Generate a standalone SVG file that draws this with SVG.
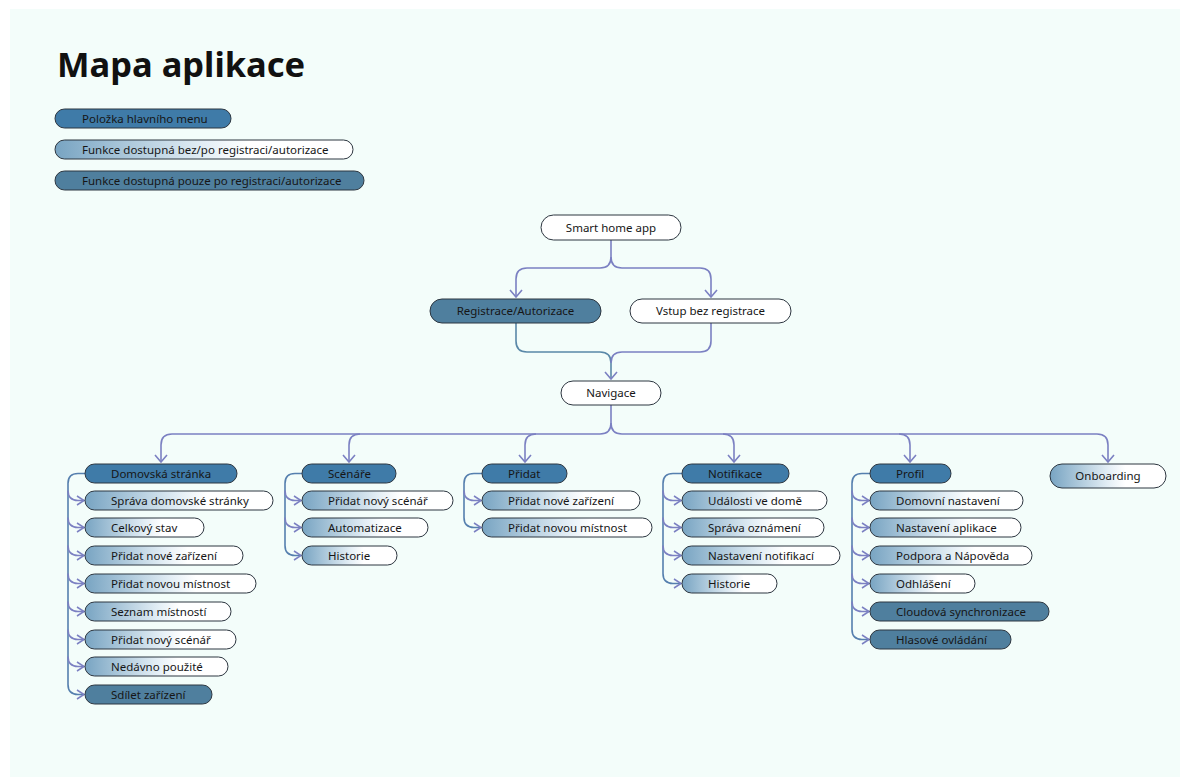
<svg xmlns="http://www.w3.org/2000/svg" width="1180" height="778" viewBox="0 0 1180 778">
<defs>
<linearGradient id="lg" x1="0" y1="0" x2="1" y2="0">
<stop offset="0" stop-color="#78a4c2"/>
<stop offset="0.5" stop-color="#e3eef5"/>
<stop offset="0.65" stop-color="#ffffff"/>
</linearGradient>
<marker id="ad" markerUnits="userSpaceOnUse" markerWidth="14" markerHeight="14" viewBox="0 0 14 14" refX="12" refY="7" orient="auto">
<path d="M5,1 L12,7 L5,13" fill="none" stroke="#7b80c2" stroke-width="1.6"/>
</marker>
<marker id="ac" markerUnits="userSpaceOnUse" markerWidth="12" markerHeight="12" viewBox="0 0 12 12" refX="10" refY="6" orient="auto">
<path d="M3,1.5 L10,6 L3,10.5" fill="none" stroke="#7b80c2" stroke-width="1.5"/>
</marker>
</defs>
<style>
.n rect{stroke:#2d3640;stroke-width:1}
.main{fill:#3f7ba8}
.reg{fill:#4f7f9e}
.lt{fill:url(#lg)}
.wh{fill:#ffffff}
text{font-family:"Noto Sans","DejaVu Sans",sans-serif;font-size:11.5px;fill:#161616}
.c{text-anchor:middle}
.cn path{fill:none;stroke:#7b80c2;stroke-width:1.6}
.cn path.tr{stroke:#557fae}
</style>
<rect x="10" y="9" width="1170" height="768" fill="#f3fdfa"/>
<text x="57" y="77" style="font-size:34.5px;font-weight:bold;fill:#111">Mapa aplikace</text>

<g id="legend" class="n">
<rect class="main" x="55" y="109" width="176" height="19" rx="9.5"/>
<text x="82" y="122.5">Položka hlavního menu</text>
<rect class="lt" x="55" y="140" width="298" height="19" rx="9.5"/>
<text x="82" y="153.5">Funkce dostupná bez/po registraci/autorizace</text>
<rect class="reg" x="55" y="171" width="309" height="19" rx="9.5"/>
<text x="82" y="184.5">Funkce dostupná pouze po registraci/autorizace</text>
</g>

<g id="connectors" class="cn">
<path d="M611,240 V257 Q611,268 600,268 H527 Q516,268 516,279 V297" marker-end="url(#ad)"/>
<path d="M611,257 Q611,268 622,268 H700 Q711,268 711,279 V297" marker-end="url(#ad)"/>
<path d="M516,323 V341 Q516,352 527,352 H600 Q611,352 611,363 V379" style="stroke:#5a88a8" marker-end="url(#ad)"/>
<path d="M711,323 V341 Q711,352 700,352 H622 Q611,352 611,363"/>
<path d="M611,405 V423 Q611,434 600,434 H172 Q161,434 161,445 V462" marker-end="url(#ad)"/>
<path d="M611,423 Q611,434 622,434 H1097 Q1108,434 1108,445 V462" marker-end="url(#ad)"/>
<path d="M360,434 Q349,434 349,445 V462" marker-end="url(#ad)"/>
<path d="M536,434 Q525,434 525,445 V462" marker-end="url(#ad)"/>
<path d="M723,434 Q734,434 734,445 V462" marker-end="url(#ad)"/>
<path d="M899,434 Q910,434 910,445 V462" marker-end="url(#ad)"/>

<!-- Domovská -->
<path class="tr" d="M85,473.5 H78 Q68,473.5 68,483.5 V684.5 Q68,694.5 78,694.5 H84" marker-end="url(#ac)"/>
<path d="M68,490.5 Q68,500.5 78,500.5 H84" marker-end="url(#ac)"/>
<path d="M68,517.5 Q68,527.5 78,527.5 H84" marker-end="url(#ac)"/>
<path d="M68,545.5 Q68,555.5 78,555.5 H84" marker-end="url(#ac)"/>
<path d="M68,573.5 Q68,583.5 78,583.5 H84" marker-end="url(#ac)"/>
<path d="M68,601.5 Q68,611.5 78,611.5 H84" marker-end="url(#ac)"/>
<path d="M68,629.5 Q68,639.5 78,639.5 H84" marker-end="url(#ac)"/>
<path d="M68,656.5 Q68,666.5 78,666.5 H84" marker-end="url(#ac)"/>
<!-- Scénáře -->
<path class="tr" d="M302,473.5 H295 Q285,473.5 285,483.5 V545.5 Q285,555.5 295,555.5 H301" marker-end="url(#ac)"/>
<path d="M285,490.5 Q285,500.5 295,500.5 H301" marker-end="url(#ac)"/>
<path d="M285,517.5 Q285,527.5 295,527.5 H301" marker-end="url(#ac)"/>
<!-- Přidat -->
<path class="tr" d="M482,473.5 H474 Q464,473.5 464,483.5 V517.5 Q464,527.5 474,527.5 H481" marker-end="url(#ac)"/>
<path d="M464,490.5 Q464,500.5 474,500.5 H481" marker-end="url(#ac)"/>
<!-- Notifikace -->
<path class="tr" d="M682,473.5 H673 Q663,473.5 663,483.5 V573.5 Q663,583.5 673,583.5 H681" marker-end="url(#ac)"/>
<path d="M663,490.5 Q663,500.5 673,500.5 H681" marker-end="url(#ac)"/>
<path d="M663,517.5 Q663,527.5 673,527.5 H681" marker-end="url(#ac)"/>
<path d="M663,545.5 Q663,555.5 673,555.5 H681" marker-end="url(#ac)"/>
<!-- Profil -->
<path class="tr" d="M870,473.5 H862 Q852,473.5 852,483.5 V629.5 Q852,639.5 862,639.5 H869" marker-end="url(#ac)"/>
<path d="M852,490.5 Q852,500.5 862,500.5 H869" marker-end="url(#ac)"/>
<path d="M852,517.5 Q852,527.5 862,527.5 H869" marker-end="url(#ac)"/>
<path d="M852,545.5 Q852,555.5 862,555.5 H869" marker-end="url(#ac)"/>
<path d="M852,573.5 Q852,583.5 862,583.5 H869" marker-end="url(#ac)"/>
<path d="M852,601.5 Q852,611.5 862,611.5 H869" marker-end="url(#ac)"/>
</g>

<g id="n-smart" class="n"><rect class="wh" x="541" y="215" width="140" height="25" rx="12.5"/><text class="c" x="611" y="231.5">Smart home app</text></g>
<g id="n-registrace" class="n"><rect class="reg" x="430" y="299" width="171" height="24" rx="12"/><text class="c" x="515.5" y="315">Registrace/Autorizace</text></g>
<g id="n-vstup" class="n"><rect class="wh" x="630" y="299" width="161" height="24" rx="12"/><text class="c" x="710.5" y="315">Vstup bez registrace</text></g>
<g id="n-navigace" class="n"><rect class="wh" x="561" y="381" width="100" height="24" rx="12"/><text class="c" x="611" y="397">Navigace</text></g>

<g id="n-domovska" class="n"><rect class="main" x="85" y="464" width="152" height="19" rx="9.5"/><text x="111" y="477.5">Domovská stránka</text></g>
<g id="n-d1" class="n"><rect class="lt" x="85" y="491" width="188" height="19" rx="9.5"/><text x="111" y="504.5">Správa domovské stránky</text></g>
<g id="n-d2" class="n"><rect class="lt" x="85" y="518" width="119" height="19" rx="9.5"/><text x="111" y="531.5">Celkový stav</text></g>
<g id="n-d3" class="n"><rect class="lt" x="85" y="546" width="158" height="19" rx="9.5"/><text x="111" y="559.5">Přidat nové zařízení</text></g>
<g id="n-d4" class="n"><rect class="lt" x="85" y="574" width="171" height="19" rx="9.5"/><text x="111" y="587.5">Přidat novou místnost</text></g>
<g id="n-d5" class="n"><rect class="lt" x="85" y="602" width="146" height="19" rx="9.5"/><text x="111" y="615.5">Seznam místností</text></g>
<g id="n-d6" class="n"><rect class="lt" x="85" y="630" width="151" height="19" rx="9.5"/><text x="111" y="643.5">Přidat nový scénář</text></g>
<g id="n-d7" class="n"><rect class="lt" x="85" y="657" width="143" height="19" rx="9.5"/><text x="111" y="670.5">Nedávno použité</text></g>
<g id="n-d8" class="n"><rect class="reg" x="85" y="685" width="127" height="19" rx="9.5"/><text x="111" y="698.5">Sdílet zařízení</text></g>

<g id="n-scenare" class="n"><rect class="main" x="302" y="464" width="94" height="19" rx="9.5"/><text x="328" y="477.5">Scénáře</text></g>
<g id="n-s1" class="n"><rect class="lt" x="302" y="491" width="151" height="19" rx="9.5"/><text x="328" y="504.5">Přidat nový scénář</text></g>
<g id="n-s2" class="n"><rect class="lt" x="302" y="518" width="126" height="19" rx="9.5"/><text x="328" y="531.5">Automatizace</text></g>
<g id="n-s3" class="n"><rect class="lt" x="302" y="546" width="95" height="19" rx="9.5"/><text x="328" y="559.5">Historie</text></g>

<g id="n-pridat" class="n"><rect class="main" x="482" y="464" width="85" height="19" rx="9.5"/><text x="508" y="477.5">Přidat</text></g>
<g id="n-p1" class="n"><rect class="lt" x="482" y="491" width="158" height="19" rx="9.5"/><text x="508" y="504.5">Přidat nové zařízení</text></g>
<g id="n-p2" class="n"><rect class="lt" x="482" y="518" width="170" height="19" rx="9.5"/><text x="508" y="531.5">Přidat novou místnost</text></g>

<g id="n-notifikace" class="n"><rect class="main" x="682" y="464" width="107" height="19" rx="9.5"/><text x="708" y="477.5">Notifikace</text></g>
<g id="n-n1" class="n"><rect class="lt" x="682" y="491" width="145" height="19" rx="9.5"/><text x="708" y="504.5">Události ve domě</text></g>
<g id="n-n2" class="n"><rect class="lt" x="682" y="518" width="142" height="19" rx="9.5"/><text x="708" y="531.5">Správa oznámení</text></g>
<g id="n-n3" class="n"><rect class="lt" x="682" y="546" width="158" height="19" rx="9.5"/><text x="708" y="559.5">Nastavení notifikací</text></g>
<g id="n-n4" class="n"><rect class="lt" x="682" y="574" width="95" height="19" rx="9.5"/><text x="708" y="587.5">Historie</text></g>

<g id="n-profil" class="n"><rect class="main" x="870" y="464" width="81" height="19" rx="9.5"/><text x="896" y="477.5">Profil</text></g>
<g id="n-f1" class="n"><rect class="lt" x="870" y="491" width="153" height="19" rx="9.5"/><text x="896" y="504.5">Domovní nastavení</text></g>
<g id="n-f2" class="n"><rect class="lt" x="870" y="518" width="151" height="19" rx="9.5"/><text x="896" y="531.5">Nastavení aplikace</text></g>
<g id="n-f3" class="n"><rect class="lt" x="870" y="546" width="162" height="19" rx="9.5"/><text x="896" y="559.5">Podpora a Nápověda</text></g>
<g id="n-f4" class="n"><rect class="lt" x="870" y="574" width="105" height="19" rx="9.5"/><text x="896" y="587.5">Odhlášení</text></g>
<g id="n-f5" class="n"><rect class="reg" x="870" y="602" width="179" height="19" rx="9.5"/><text x="896" y="615.5">Cloudová synchronizace</text></g>
<g id="n-f6" class="n"><rect class="reg" x="870" y="630" width="141" height="19" rx="9.5"/><text x="896" y="643.5">Hlasové ovládání</text></g>

<g id="n-onboarding" class="n"><rect class="lt" x="1050" y="464" width="116" height="24" rx="12"/><text class="c" x="1108" y="480">Onboarding</text></g>
</svg>
